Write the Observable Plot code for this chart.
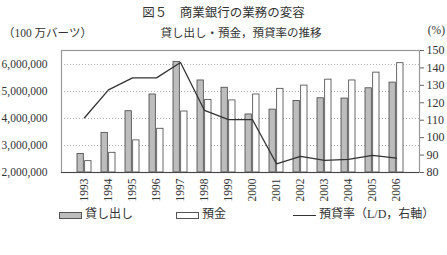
<!DOCTYPE html>
<html><head><meta charset="utf-8">
<script src="https://cdn.jsdelivr.net/npm/d3@7"></script>
<script src="https://cdn.jsdelivr.net/npm/@observablehq/plot@0.6"></script>
<style>
body{margin:0;background:#fff;}
#wrap{position:relative;width:447px;height:255px;font-family:"Liberation Serif","Noto Sans CJK JP",serif;color:#333;}
.t{position:absolute;white-space:nowrap;}
.sw{display:inline-block;vertical-align:middle;}
</style></head><body>
<div id="wrap">
  <div id="chart" style="position:absolute;left:0;top:0"></div>
  <div class="t" style="left:0;width:447px;text-align:center;top:2px;font-size:12.5px;">図５　商業銀行の業務の変容</div>
  <div class="t" style="left:3px;top:24px;font-size:11.5px;">（100 万バーツ）</div>
  <div class="t" style="left:160px;width:162px;text-align:center;top:24px;font-size:11.5px;">貸し出し・預金，預貸率の推移</div>
  <div class="t" style="right:2px;top:24px;font-size:11.5px;">(%)</div>
  <div class="t" style="left:59px;top:204px;font-size:12px;"><span class="sw" style="width:23px;height:7px;background:#bdbdbd;border:1px solid #555;box-sizing:border-box;"></span> 貸し出し</div>
  <div class="t" style="left:176px;top:204px;font-size:12px;"><span class="sw" style="width:23px;height:7px;background:#fff;border:1px solid #555;box-sizing:border-box;"></span> 預金</div>
  <div class="t" style="left:293px;top:204px;font-size:12px;"><span class="sw" style="width:23px;height:1.3px;background:#333;"></span> 預貸率（L/D，右軸）</div>
</div>
<script>
const years = ["1993","1994","1995","1996","1997","1998","1999","2000","2001","2002","2003","2004","2005","2006"];
const loans = [2.69,3.47,4.27,4.89,6.10,5.41,5.14,4.15,4.33,4.65,4.75,4.74,5.12,5.33].map(v=>v*1e6);
const deposits = [2.42,2.73,3.19,3.62,4.26,4.69,4.67,4.89,5.10,5.22,5.44,5.41,5.70,6.05].map(v=>v*1e6);
const ldRatio = [111.4,127.4,134.3,134.3,143.1,115.6,110.3,110.3,85.0,89.2,86.9,87.5,89.8,88.2];
const leftTicks = [2e6,3e6,4e6,5e6,6e6];
const rightTicks = [80,90,100,110,120,130,140,150];

const L0 = 2e6, L1 = 6.52e6, R0 = 80, R1 = 150;
const toLeft = v => L0 + (v - R0) / (R1 - R0) * (L1 - L0);
const toRight = v => R0 + (v - L0) / (L1 - L0) * (R1 - R0);

const rows = years.map((y,i)=>({year:y, loan:loans[i], dep:deposits[i], ld:toLeft(ldRatio[i])}));

const W = 447, H = 255, mL = 61, mR = 28;
const step = (W - mL - mR) / years.length;
const pad = 0.4;
const half = step * (1 - pad) / 2;

const fmt = d3.format(",");
const chart = Plot.plot({
  width: W, height: H,
  marginTop: 50, marginBottom: 83, marginLeft: mL, marginRight: mR,
  style: {fontFamily: '"Liberation Serif","Noto Sans CJK JP",serif', fontSize: "11px", color: "#333", background: "transparent"},
  x: {domain: years, padding: pad, label: null},
  y: {domain: [L0, L1], label: null},
  marks: [
    Plot.gridY(leftTicks.slice(1), {stroke: "#999", strokeOpacity: 0.8, strokeDasharray: "1,2"}),
    Plot.barY(rows, {x: "year", y1: L0, y2: "loan", insetRight: half, fill: "#bdbdbd", stroke: "#444", strokeWidth: 0.8}),
    Plot.barY(rows, {x: "year", y1: L0, y2: "dep", insetLeft: half, fill: "#fff", stroke: "#444", strokeWidth: 0.8}),
    Plot.lineY(rows, {x: "year", y: "ld", stroke: "#333", strokeWidth: 1.3}),
    Plot.frame({stroke: "#999", strokeWidth: 1.2}),
    Plot.ruleY([L0], {stroke: "#444", strokeWidth: 1}),
    Plot.axisY(leftTicks, {anchor: "left", tickSize: 0, tickPadding: 14, tickFormat: fmt, fontSize: 11.5, label: null}),
    Plot.axisY(rightTicks.map(toLeft), {anchor: "right", tickSize: 4, tickPadding: 3, tickFormat: v => Math.round(toRight(v)), fontSize: 12, label: null, stroke: "#666"}),
    Plot.axisX(years, {tickSize: 0, tickPadding: 6, tickRotate: -90, fontSize: 11.5, label: null})
  ]
});
document.getElementById("chart").appendChild(chart);
</script>
</body></html>
